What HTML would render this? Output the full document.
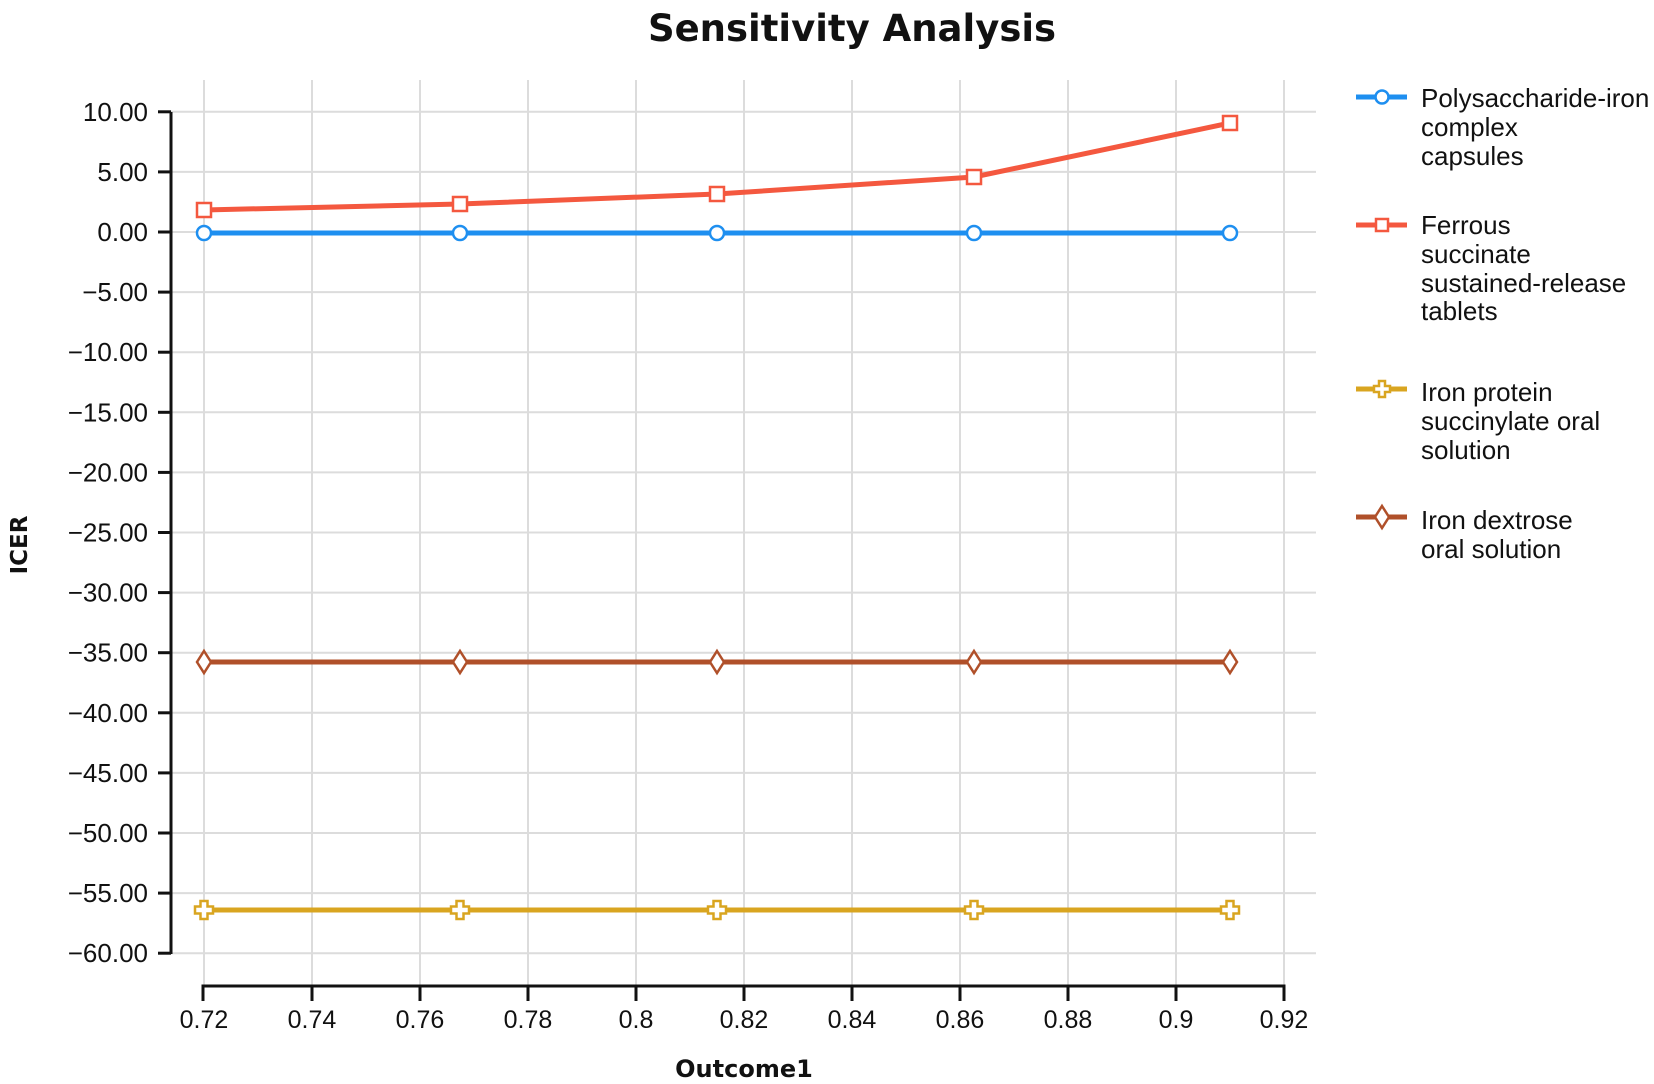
<!DOCTYPE html>
<html><head><meta charset="utf-8"><style>
html,body{margin:0;padding:0;background:#fff;}
svg{display:block;}
text{font-family:"Liberation Sans",sans-serif;fill:#111;}
.dj{font-family:"DejaVu Sans",sans-serif;}
</style></head><body>
<svg width="1654" height="1084" viewBox="0 0 1654 1084" xmlns="http://www.w3.org/2000/svg">
<text class="dj" x="852" y="41" text-anchor="middle" font-size="37" font-weight="bold">Sensitivity Analysis</text>
<g stroke="#dcdcdc" stroke-width="2">
<line x1="204" y1="80" x2="204" y2="985"/><line x1="312" y1="80" x2="312" y2="985"/>
<line x1="420" y1="80" x2="420" y2="985"/><line x1="528" y1="80" x2="528" y2="985"/>
<line x1="636" y1="80" x2="636" y2="985"/><line x1="744" y1="80" x2="744" y2="985"/>
<line x1="852" y1="80" x2="852" y2="985"/><line x1="960" y1="80" x2="960" y2="985"/>
<line x1="1068" y1="80" x2="1068" y2="985"/><line x1="1176" y1="80" x2="1176" y2="985"/>
<line x1="1284" y1="80" x2="1284" y2="985"/>
</g>
<g stroke="#dcdcdc" stroke-width="2" id="hg"></g>
<g id="yl"></g>
<g stroke="#111" stroke-width="3" fill="none">
<line x1="171" y1="112" x2="171" y2="954"/>
<path d="M203,1001 V986 H1284 V1001"/>
<line x1="312" y1="986" x2="312" y2="1001"/><line x1="420" y1="986" x2="420" y2="1001"/>
<line x1="528" y1="986" x2="528" y2="1001"/><line x1="636" y1="986" x2="636" y2="1001"/>
<line x1="744" y1="986" x2="744" y2="1001"/><line x1="852" y1="986" x2="852" y2="1001"/>
<line x1="960" y1="986" x2="960" y2="1001"/><line x1="1068" y1="986" x2="1068" y2="1001"/>
<line x1="1176" y1="986" x2="1176" y2="1001"/>
</g>
<g font-size="25" text-anchor="middle">
<text x="204" y="1028">0.72</text><text x="312" y="1028">0.74</text><text x="420" y="1028">0.76</text>
<text x="528" y="1028">0.78</text><text x="636" y="1028">0.8</text><text x="744" y="1028">0.82</text>
<text x="852" y="1028">0.84</text><text x="960" y="1028">0.86</text><text x="1068" y="1028">0.88</text>
<text x="1176" y="1028">0.9</text><text x="1284" y="1028">0.92</text>
</g>
<text class="dj" x="744" y="1077" text-anchor="middle" font-size="24" font-weight="bold">Outcome1</text>
<text class="dj" transform="translate(27,545) rotate(-90)" text-anchor="middle" font-size="23" font-weight="bold">ICER</text>
<script>
var hg=document.getElementById('hg'),yl=document.getElementById('yl'),ns='http://www.w3.org/2000/svg';
for(var v=10;v>=-60;v-=5){var y=232-v*12.02;
var l=document.createElementNS(ns,'line');l.setAttribute('x1',171);l.setAttribute('x2',1316);l.setAttribute('y1',y);l.setAttribute('y2',y);hg.appendChild(l);
var t=document.createElementNS(ns,'line');t.setAttribute('x1',158);t.setAttribute('x2',171);t.setAttribute('y1',y);t.setAttribute('y2',y);t.setAttribute('stroke','#111');t.setAttribute('stroke-width',3);yl.appendChild(t);
var tx=document.createElementNS(ns,'text');tx.setAttribute('x',148);tx.setAttribute('y',y+9);tx.setAttribute('text-anchor','end');tx.setAttribute('font-size','26');
tx.textContent=(v<0?'\u2212':'')+Math.abs(v).toFixed(2);yl.appendChild(tx);}
</script>
<polyline points="204,210 460,204 717,194 974,177 1230,123" fill="none" stroke="#f4583f" stroke-width="5"/>
<g fill="#fff" stroke="#f4583f" stroke-width="2.5">
<rect x="197" y="203" width="14" height="14"/><rect x="453" y="197" width="14" height="14"/>
<rect x="710" y="187" width="14" height="14"/><rect x="967" y="170" width="14" height="14"/>
<rect x="1223" y="116" width="14" height="14"/></g>
<line x1="204" y1="233" x2="1230" y2="233" stroke="#1e8ff0" stroke-width="5"/>
<g fill="#fff" stroke="#1e8ff0" stroke-width="2.5">
<circle cx="204" cy="233" r="7"/><circle cx="460" cy="233" r="7"/><circle cx="717" cy="233" r="7"/>
<circle cx="974" cy="233" r="7"/><circle cx="1230" cy="233" r="7"/></g>
<line x1="204" y1="662" x2="1230" y2="662" stroke="#b0502a" stroke-width="5"/>
<g fill="#fff" stroke="#b0502a" stroke-width="2.5">
<path d="M204,651 l7,11 l-7,11 l-7,-11z"/><path d="M460,651 l7,11 l-7,11 l-7,-11z"/>
<path d="M717,651 l7,11 l-7,11 l-7,-11z"/><path d="M974,651 l7,11 l-7,11 l-7,-11z"/>
<path d="M1230,651 l7,11 l-7,11 l-7,-11z"/></g>
<line x1="204" y1="910" x2="1230" y2="910" stroke="#d9a520" stroke-width="5"/>
<g fill="#fff" stroke="#d9a520" stroke-width="2.5" id="pl"></g>
<script>
var pl=document.getElementById('pl');
[204,460,717,974,1230].forEach(function(x){var p=document.createElementNS(ns,'path');
p.setAttribute('d','M'+(x-3.5)+',901 h7 v5.5 h5.5 v7 h-5.5 v5.5 h-7 v-5.5 h-5.5 v-7 h5.5z');pl.appendChild(p);});
</script>
<line x1="1356" y1="97" x2="1407" y2="97" stroke="#1e8ff0" stroke-width="5"/>
<circle cx="1382" cy="97" r="6.5" fill="#fff" stroke="#1e8ff0" stroke-width="2.5"/>
<line x1="1356" y1="225" x2="1407" y2="225" stroke="#f4583f" stroke-width="5"/>
<rect x="1376" y="219" width="12" height="12" fill="#fff" stroke="#f4583f" stroke-width="2.5"/>
<line x1="1356" y1="389" x2="1407" y2="389" stroke="#d9a520" stroke-width="5"/>
<path d="M1379,381 h6 v5 h5 v6 h-5 v5 h-6 v-5 h-5 v-6 h5z" fill="#fff" stroke="#d9a520" stroke-width="2.5"/>
<line x1="1356" y1="517" x2="1407" y2="517" stroke="#b0502a" stroke-width="5"/>
<path d="M1382,506 l7,11 l-7,11 l-7,-11z" fill="#fff" stroke="#b0502a" stroke-width="2.5"/>
<g font-size="26">
<text x="1421" y="107">Polysaccharide-iron</text><text x="1421" y="136">complex</text><text x="1421" y="165">capsules</text>
<text x="1421" y="234">Ferrous</text><text x="1421" y="263">succinate</text><text x="1421" y="292">sustained-release</text><text x="1421" y="320">tablets</text>
<text x="1421" y="401">Iron protein</text><text x="1421" y="430">succinylate oral</text><text x="1421" y="459">solution</text>
<text x="1421" y="529">Iron dextrose</text><text x="1421" y="558">oral solution</text>
</g>
</svg>
</body></html>
